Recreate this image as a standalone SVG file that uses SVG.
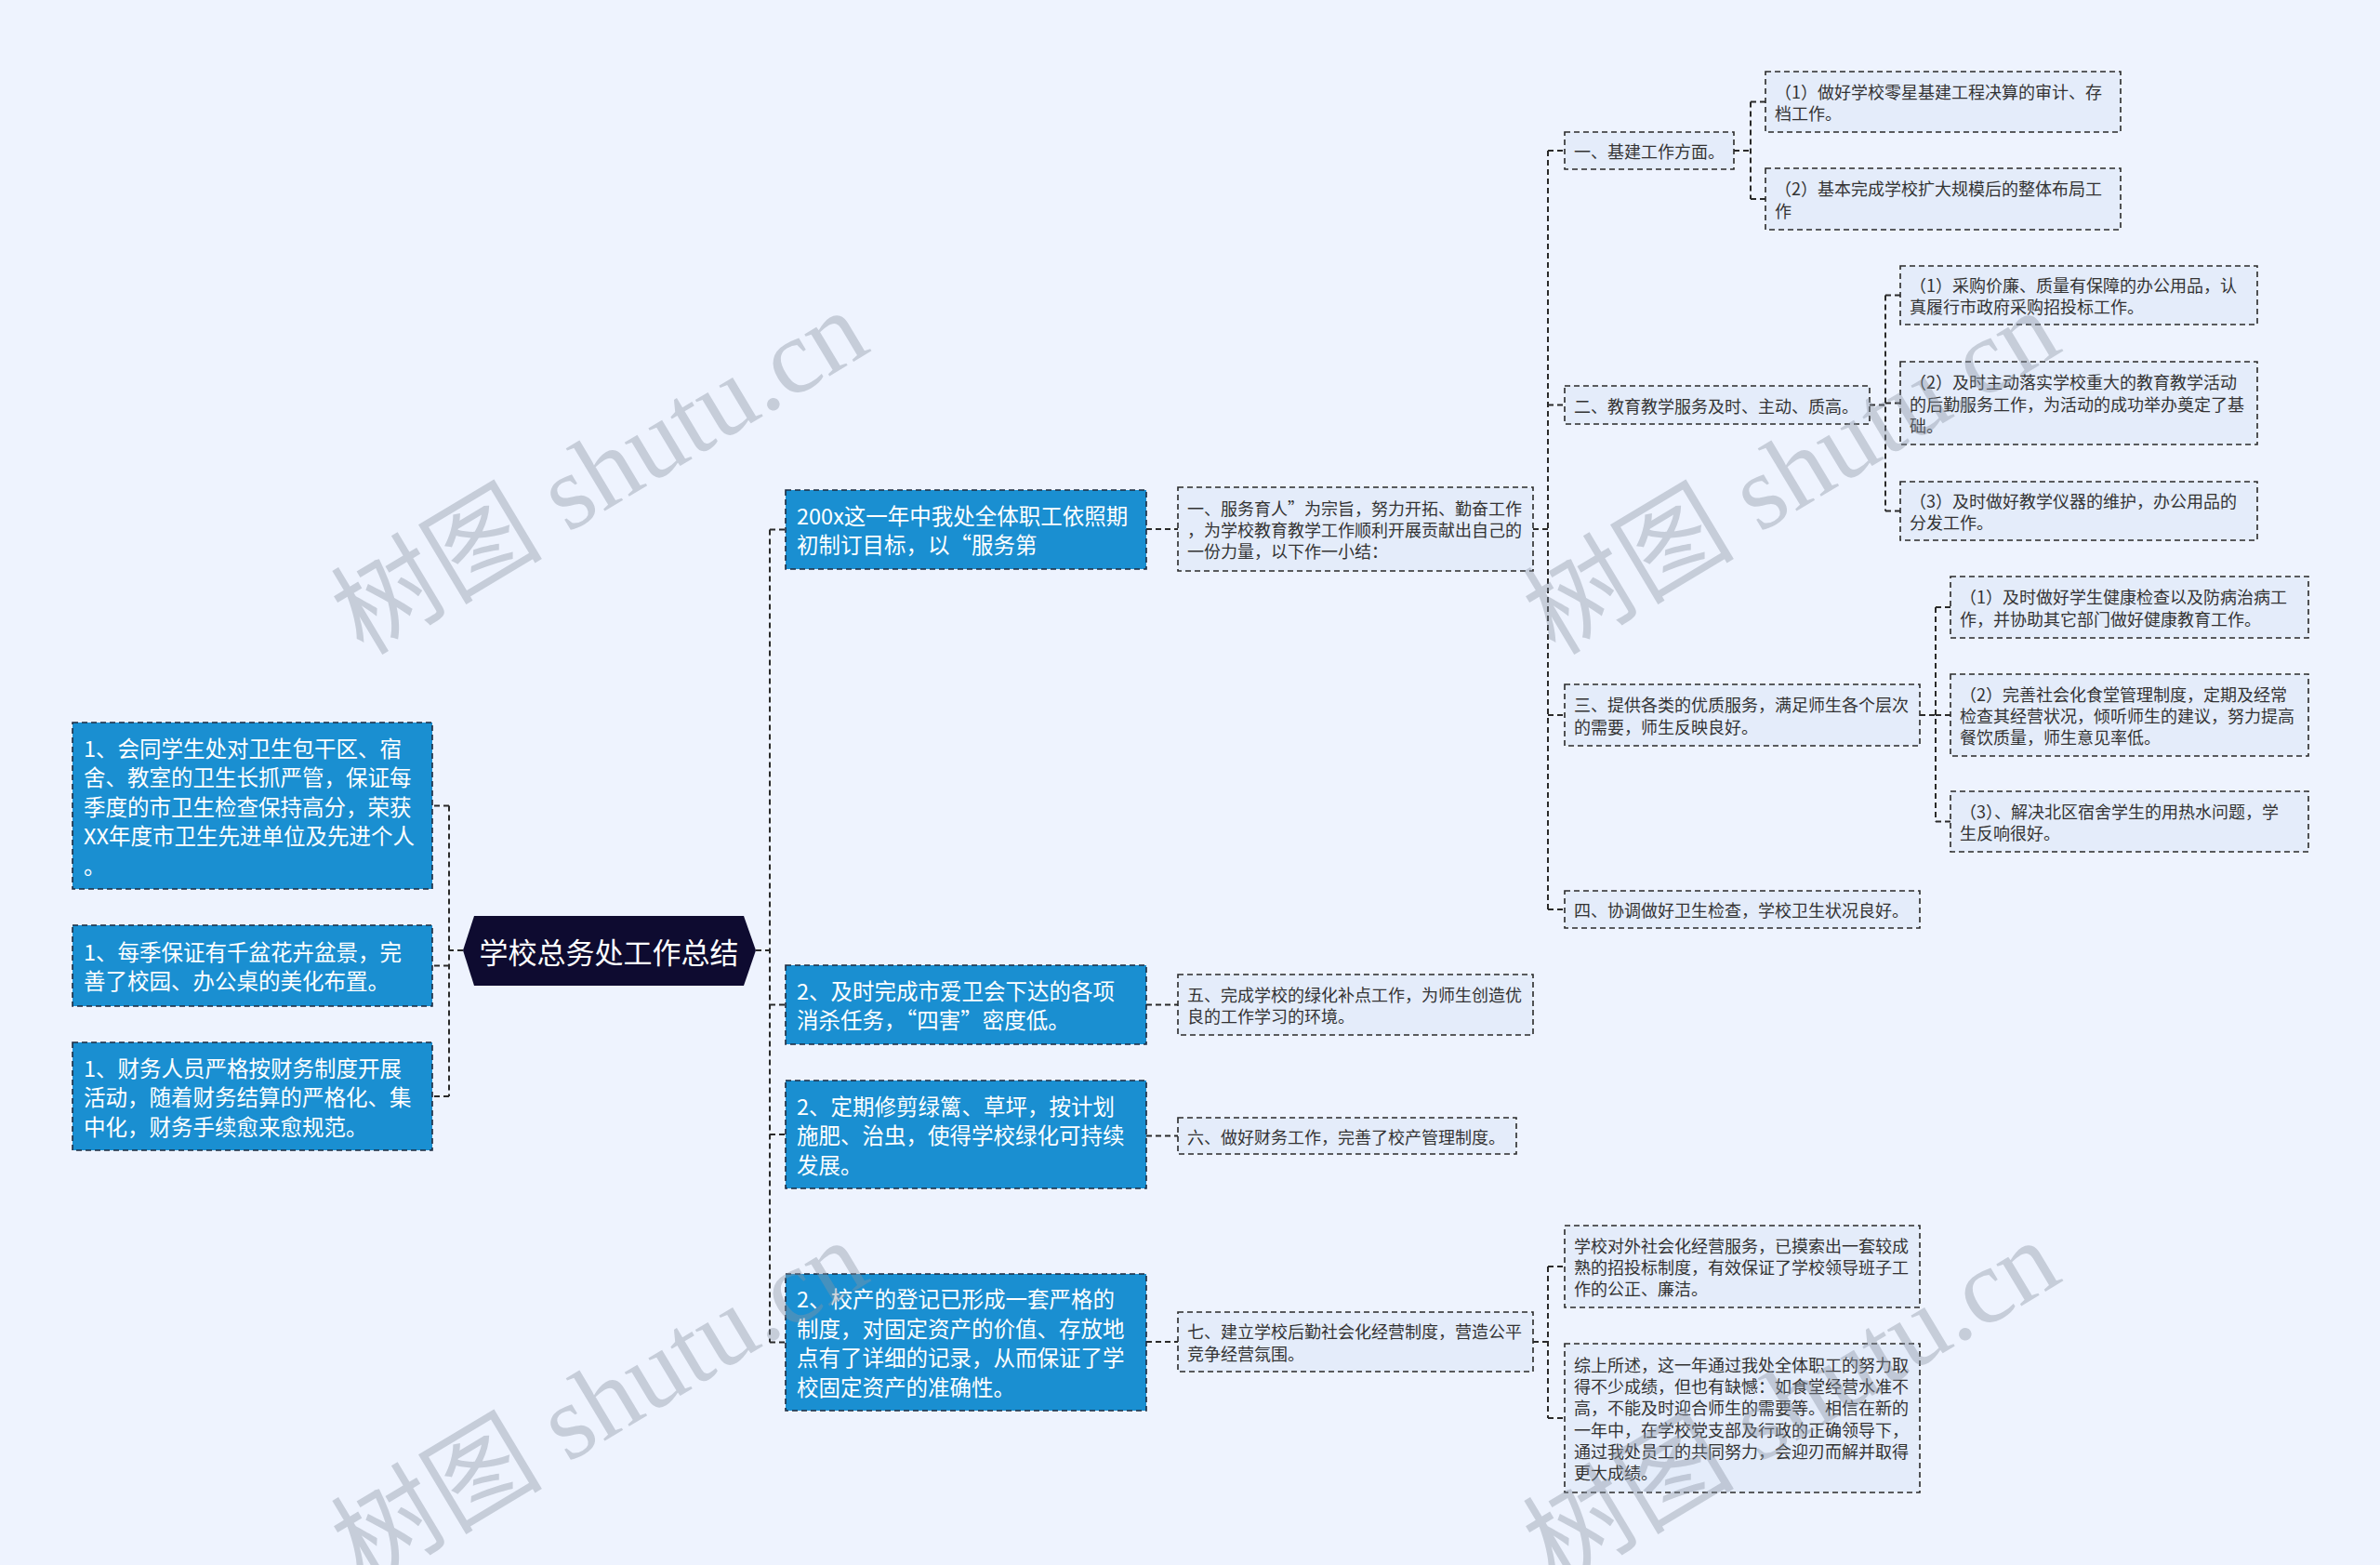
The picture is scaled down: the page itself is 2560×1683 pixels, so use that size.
<svg xmlns="http://www.w3.org/2000/svg" width="2560" height="1683" viewBox="0 0 2560 1683">
<style>
.bg{fill:#eef3fe}
.root{fill:#0e0b30}
.rt{fill:#ffffff;font-family:"Noto Sans CJK SC","Noto Sans",sans-serif;font-size:31px;text-anchor:middle;dominant-baseline:central}
.blue{fill:#1a8fd1;stroke:#1d2b3f;stroke-width:1.6;stroke-dasharray:6 4}
.bt{fill:#ffffff;font-family:"Noto Sans CJK SC","Noto Sans",sans-serif;font-size:23.5px;dominant-baseline:central}
.lt{fill:#e4ecfa;stroke:#2a2a2a;stroke-width:1.6;stroke-dasharray:6 4}
.st{fill:#333333;font-family:"Noto Sans CJK SC","Noto Sans",sans-serif;font-size:18px;dominant-baseline:central}
.con{fill:none;stroke:#2a2a2a;stroke-width:2;stroke-dasharray:6 4}
.wm{fill:#8a93a3;fill-opacity:0.4;font-family:"Liberation Serif","Noto Sans CJK SC",serif;font-size:114px;text-anchor:middle;dominant-baseline:central}
</style>
<rect class="bg" x="0" y="0" width="2560" height="1683"/>
<g id="connectors">
<path class="con" d="M498,1022 H483 M483,866.5 V1179 M483,866.5 H465 M483,1038.5 H465 M483,1179 H465"/>
<path class="con" d="M813,1022 H828 M828,569.5 V1443.5 M828,569.5 H845 M828,1080.5 H845 M828,1220 H845 M828,1443.5 H845"/>
<path class="con" d="M1233,569 H1267 M1233,1080.5 H1267 M1233,1221.5 H1267 M1233,1443 H1267"/>
<path class="con" d="M1649,569 H1665 M1665,162 V978 M1665,162 H1683 M1665,435.5 H1683 M1665,769 H1683 M1665,978 H1683"/>
<path class="con" d="M1865,162 H1883 M1883,109.5 V214 M1883,109.5 H1899 M1883,214 H1899"/>
<path class="con" d="M2011,435.5 H2028 M2028,317.5 V549.5 M2028,317.5 H2044 M2028,433.5 H2044 M2028,549.5 H2044"/>
<path class="con" d="M2065,769 H2082 M2082,653 V883.5 M2082,653 H2098 M2082,769 H2098 M2082,883.5 H2098"/>
<path class="con" d="M1649,1443 H1665 M1665,1362 V1525 M1665,1362 H1683 M1665,1525 H1683"/>
</g>
<g id="root">
<polygon class="root" points="498,1022 510,985 800,985 813,1022 800,1060 510,1060"/>
<text class="rt" x="655" y="1022">学校总务处工作总结</text>
</g>
<g id="L1">
<rect class="blue" x="78" y="777" width="387" height="179"/>
<text class="bt" x="90" y="803.5">1、会同学生处对卫生包干区、宿</text>
<text class="bt" x="90" y="835">舍、教室的卫生长抓严管，保证每</text>
<text class="bt" x="90" y="866.5">季度的市卫生检查保持高分，荣获</text>
<text class="bt" x="90" y="898">XX年度市卫生先进单位及先进个人</text>
<text class="bt" x="90" y="929.5">。</text>
</g>
<g id="L2">
<rect class="blue" x="78" y="995" width="387" height="87"/>
<text class="bt" x="90" y="1022.75">1、每季保证有千盆花卉盆景，完</text>
<text class="bt" x="90" y="1054.25">善了校园、办公桌的美化布置。</text>
</g>
<g id="L3">
<rect class="blue" x="78" y="1121" width="387" height="116"/>
<text class="bt" x="90" y="1147.5">1、财务人员严格按财务制度开展</text>
<text class="bt" x="90" y="1179">活动，随着财务结算的严格化、集</text>
<text class="bt" x="90" y="1210.5">中化，财务手续愈来愈规范。</text>
</g>
<g id="R1">
<rect class="blue" x="845" y="527" width="388" height="85"/>
<text class="bt" x="857" y="553.75">200x这一年中我处全体职工依照期</text>
<text class="bt" x="857" y="585.25">初制订目标，以“服务第</text>
</g>
<g id="R2">
<rect class="blue" x="845" y="1038" width="388" height="85"/>
<text class="bt" x="857" y="1064.75">2、及时完成市爱卫会下达的各项</text>
<text class="bt" x="857" y="1096.25">消杀任务，“四害”密度低。</text>
</g>
<g id="R3">
<rect class="blue" x="845" y="1162" width="388" height="116"/>
<text class="bt" x="857" y="1188.5">2、定期修剪绿篱、草坪，按计划</text>
<text class="bt" x="857" y="1220">施肥、治虫，使得学校绿化可持续</text>
<text class="bt" x="857" y="1251.5">发展。</text>
</g>
<g id="R4">
<rect class="blue" x="845" y="1370" width="388" height="147"/>
<text class="bt" x="857" y="1396.25">2、校产的登记已形成一套严格的</text>
<text class="bt" x="857" y="1427.75">制度，对固定资产的价值、存放地</text>
<text class="bt" x="857" y="1459.25">点有了详细的记录，从而保证了学</text>
<text class="bt" x="857" y="1490.75">校固定资产的准确性。</text>
</g>
<g id="M1">
<rect class="lt" x="1267" y="524" width="382" height="90"/>
<text class="st" x="1277" y="545.7">一、服务育人”为宗旨，努力开拓、勤奋工作</text>
<text class="st" x="1277" y="569">，为学校教育教学工作顺利开展贡献出自己的</text>
<text class="st" x="1277" y="592.3">一份力量，以下作一小结：</text>
</g>
<g id="M5">
<rect class="lt" x="1267" y="1048" width="382" height="65"/>
<text class="st" x="1277" y="1068.85">五、完成学校的绿化补点工作，为师生创造优</text>
<text class="st" x="1277" y="1092.15">良的工作学习的环境。</text>
</g>
<g id="M6">
<rect class="lt" x="1267" y="1202" width="364" height="39"/>
<text class="st" x="1277" y="1221.5">六、做好财务工作，完善了校产管理制度。</text>
</g>
<g id="M7">
<rect class="lt" x="1267" y="1411" width="382" height="64"/>
<text class="st" x="1277" y="1431.35">七、建立学校后勤社会化经营制度，营造公平</text>
<text class="st" x="1277" y="1454.65">竞争经营氛围。</text>
</g>
<g id="N1">
<rect class="lt" x="1683" y="142" width="182" height="40"/>
<text class="st" x="1693" y="162">一、基建工作方面。</text>
</g>
<g id="N1a">
<rect class="lt" x="1899" y="77" width="382" height="65"/>
<text class="st" x="1909" y="97.85">（1）做好学校零星基建工程决算的审计、存</text>
<text class="st" x="1909" y="121.15">档工作。</text>
</g>
<g id="N1b">
<rect class="lt" x="1899" y="181" width="382" height="66"/>
<text class="st" x="1909" y="202.35">（2）基本完成学校扩大规模后的整体布局工</text>
<text class="st" x="1909" y="225.65">作</text>
</g>
<g id="N2">
<rect class="lt" x="1683" y="415" width="328" height="41"/>
<text class="st" x="1693" y="435.5">二、教育教学服务及时、主动、质高。</text>
</g>
<g id="N2a">
<rect class="lt" x="2044" y="286" width="384" height="63"/>
<text class="st" x="2054" y="305.85">（1）采购价廉、质量有保障的办公用品，认</text>
<text class="st" x="2054" y="329.15">真履行市政府采购招投标工作。</text>
</g>
<g id="N2b">
<rect class="lt" x="2044" y="389" width="384" height="89"/>
<text class="st" x="2054" y="410.2">（2）及时主动落实学校重大的教育教学活动</text>
<text class="st" x="2054" y="433.5">的后勤服务工作，为活动的成功举办奠定了基</text>
<text class="st" x="2054" y="456.8">础。</text>
</g>
<g id="N2c">
<rect class="lt" x="2044" y="518" width="384" height="63"/>
<text class="st" x="2054" y="537.85">（3）及时做好教学仪器的维护，办公用品的</text>
<text class="st" x="2054" y="561.15">分发工作。</text>
</g>
<g id="N3">
<rect class="lt" x="1683" y="736" width="382" height="66"/>
<text class="st" x="1693" y="757.35">三、提供各类的优质服务，满足师生各个层次</text>
<text class="st" x="1693" y="780.65">的需要，师生反映良好。</text>
</g>
<g id="N3a">
<rect class="lt" x="2098" y="620" width="385" height="66"/>
<text class="st" x="2108" y="641.35">（1）及时做好学生健康检查以及防病治病工</text>
<text class="st" x="2108" y="664.65">作，并协助其它部门做好健康教育工作。</text>
</g>
<g id="N3b">
<rect class="lt" x="2098" y="725" width="385" height="88"/>
<text class="st" x="2108" y="745.7">（2）完善社会化食堂管理制度，定期及经常</text>
<text class="st" x="2108" y="769">检查其经营状况，倾听师生的建议，努力提高</text>
<text class="st" x="2108" y="792.3">餐饮质量，师生意见率低。</text>
</g>
<g id="N3c">
<rect class="lt" x="2098" y="851" width="385" height="65"/>
<text class="st" x="2108" y="871.85">（3）、解决北区宿舍学生的用热水问题，学</text>
<text class="st" x="2108" y="895.15">生反响很好。</text>
</g>
<g id="N4">
<rect class="lt" x="1683" y="958" width="382" height="40"/>
<text class="st" x="1693" y="978">四、协调做好卫生检查，学校卫生状况良好。</text>
</g>
<g id="P1">
<rect class="lt" x="1683" y="1318" width="382" height="88"/>
<text class="st" x="1693" y="1338.7">学校对外社会化经营服务，已摸索出一套较成</text>
<text class="st" x="1693" y="1362">熟的招投标制度，有效保证了学校领导班子工</text>
<text class="st" x="1693" y="1385.3">作的公正、廉洁。</text>
</g>
<g id="P2">
<rect class="lt" x="1683" y="1445" width="382" height="160"/>
<text class="st" x="1693" y="1466.75">综上所述，这一年通过我处全体职工的努力取</text>
<text class="st" x="1693" y="1490.05">得不少成绩，但也有缺憾：如食堂经营水准不</text>
<text class="st" x="1693" y="1513.35">高，不能及时迎合师生的需要等。相信在新的</text>
<text class="st" x="1693" y="1536.65">一年中，在学校党支部及行政的正确领导下，</text>
<text class="st" x="1693" y="1559.95">通过我处员工的共同努力，会迎刃而解并取得</text>
<text class="st" x="1693" y="1583.25">更大成绩。</text>
</g>
<g id="watermarks">
<text class="wm" x="645" y="508" transform="rotate(-31 645 508)">树图 shutu.cn</text>
<text class="wm" x="1927" y="508" transform="rotate(-31 1927 508)">树图 shutu.cn</text>
<text class="wm" x="645" y="1508" transform="rotate(-31 645 1508)">树图 shutu.cn</text>
<text class="wm" x="1927" y="1508" transform="rotate(-31 1927 1508)">树图 shutu.cn</text>
</g>
</svg>
